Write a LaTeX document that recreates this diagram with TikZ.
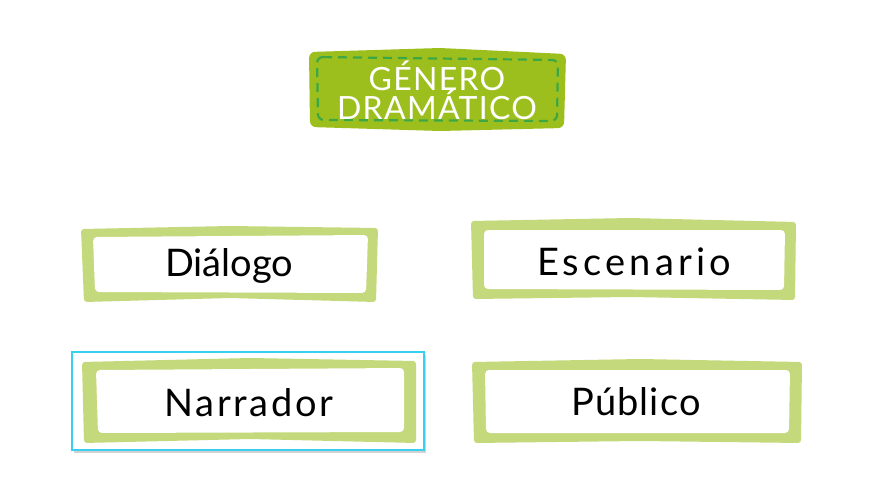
\documentclass[tikz,border=0pt]{standalone}
\usepackage{fontspec}
\setmainfont{Lato}
\usetikzlibrary{shadows}
\definecolor{titlegreen}{HTML}{9CBF1E}
\definecolor{dashgreen}{HTML}{3DA843}
\definecolor{framegreen}{HTML}{C4D97C}
\definecolor{selblue}{HTML}{38CFF0}
\tikzset{
  frame/.style={fill=framegreen, rounded corners=3pt},
  inner/.style={fill=white, rounded corners=4pt},
  lbl/.style={font=\fontsize{38}{40}\selectfont, text=black},
}
\begin{document}
\begin{tikzpicture}[x=1pt,y=-1pt]
\useasboundingbox (0,0) rectangle (876,498);
\fill[white] (0,0) rectangle (876,498);
% title
\fill[titlegreen, rounded corners=6pt] (309,52) -- (440,48) -- (566,54) -- (564,128) -- (440,131) -- (310,127) -- cycle;
\draw[dashgreen, line width=2.2pt, dash pattern=on 9pt off 6pt, rounded corners=6pt] (317,57) -- (558,60) -- (557,121) -- (318,120) -- cycle;
\node[text=white, font=\fontsize{32}{30}\selectfont\addfontfeature{LetterSpace=4}, align=center] (title) at (437,90) {GÉNERO\\[-1pt]DRAMÁTICO};
% selection rectangle
\draw[selblue, line width=1.5pt, fill=white, drop shadow={shadow xshift=2pt, shadow yshift=-3pt, opacity=0.35}] (72,352) rectangle (424,450);
% Diálogo
\fill[frame] (81,229) -- (230,226) -- (378,228) -- (376,302) -- (230,298) -- (84,302) -- cycle;
\fill[inner] (93,237) -- (368,235) -- (366,293) -- (95,292) -- cycle;
\node[lbl] (dialogo) at (229,266) {Diálogo};
% Escenario
\fill[frame] (471,221) -- (630,218) -- (796,222) -- (795,300) -- (630,297) -- (473,299) -- cycle;
\fill[inner] (484,230) -- (785,230) -- (784,290) -- (484,289) -- cycle;
\node[lbl, font=\fontsize{38}{40}\selectfont\addfontfeature{LetterSpace=11}] (escenario) at (634,262) {Escenario};
% Narrador
\fill[frame] (82,362) -- (250,358) -- (416,361) -- (416,443) -- (250,439) -- (84,443) -- cycle;
\fill[inner] (96,370) -- (404,368) -- (404,432) -- (98,433) -- cycle;
\node[lbl, font=\fontsize{38}{40}\selectfont\addfontfeature{LetterSpace=7}] (narrador) at (249,403) {Narrador};
% Publico
\fill[frame] (472,362) -- (640,359) -- (802,362) -- (801,443) -- (640,441) -- (474,443) -- cycle;
\fill[inner] (485,370) -- (790,370) -- (789,433) -- (486,433) -- cycle;
\node[lbl, font=\fontsize{38}{40}\selectfont\addfontfeature{LetterSpace=3}] (publico) at (636,402) {Público};
\end{tikzpicture}
\end{document}
